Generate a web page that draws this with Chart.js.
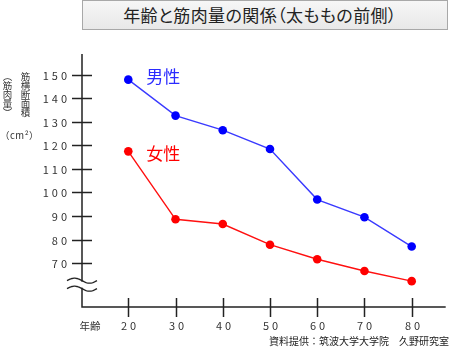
<!DOCTYPE html>
<html lang="ja">
<head>
  <meta charset="UTF-8">
  <title>年齢と筋肉量の関係</title>
  <script src="https://cdn.jsdelivr.net/npm/chart.js"></script>
  <style>
    body {
      margin: 0;
      background: #fff;
      font-family: "Noto Sans CJK JP", sans-serif;
    }
    .wrap {
      position: relative;
      width: 450px;
      height: 350px;
    }
    .title-box {
      position: absolute;
      left: 82px;
      top: 0;
      width: 366px;
      height: 30px;
      padding-right: 10px;
      box-sizing: border-box;
      border: 1px solid #a8a8a8;
      background: linear-gradient(#f6f6f6, #e8e8e8);
      color: #222;
      font-size: 17px;
      line-height: 28px;
      text-align: center;
      white-space: nowrap;
      font-feature-settings: "palt";
      letter-spacing: 0.4px;
    }
    canvas { position: absolute; left: 0; top: 0; }
  </style>
</head>
<body>

  <div class="wrap">
    <canvas id="chart" width="450" height="350"></canvas>
    <div class="title-box">年齢と筋肉量の関係（太ももの前側）</div>
  </div>

  <script>
    // values
    const ages = [20, 30, 40, 50, 60, 70, 80];
    const male = [148, 132.7, 126.5, 118.5, 97, 89.5, 77];
    const female = [117.5, 88.6, 86.6, 77.8, 71.6, 66.6, 62.3];
    const yTicks = [70, 80, 90, 100, 110, 120, 130, 140, 150];
    const seriesNames = ['男性', '女性'];
    const yTitleCols = ['筋横断面積', '︵筋肉量︶'];
    const yUnit = '（cm²）';
    const xTitle = '年齢';
    const credit = '資料提供：筑波大学大学院　久野研究室';

    const font = '"Noto Sans CJK JP", sans-serif';

    const toPoints = (vals) => ages.map((a, i) => ({ x: a, y: vals[i] }));

    const axesPlugin = {
      id: 'handAxes',
      beforeDatasetsDraw(chart) {
        const ctx = chart.ctx;
        const area = chart.chartArea;
        const xs = chart.scales.x;
        const ys = chart.scales.y;
        ctx.save();
        ctx.strokeStyle = '#222';
        ctx.lineWidth = 1.5;

        // axis lines
        ctx.beginPath();
        ctx.moveTo(area.left, area.top);
        ctx.lineTo(area.left, area.bottom);
        ctx.lineTo(area.right, area.bottom);
        ctx.stroke();

        // y ticks crossing the axis
        ctx.fillStyle = '#333';
        ctx.font = '11px ' + font;
        ctx.letterSpacing = '3px';
        ctx.textAlign = 'right';
        ctx.textBaseline = 'middle';
        yTicks.forEach(v => {
          const y = Math.round(ys.getPixelForValue(v)) + 0.5;
          ctx.beginPath();
          ctx.moveTo(area.left - 10, y);
          ctx.lineTo(area.left + 10, y);
          ctx.stroke();
          ctx.fillText(String(v), area.left - 12, y);
        });

        // x ticks crossing the axis
        ctx.textAlign = 'center';
        ages.forEach(a => {
          const x = Math.round(xs.getPixelForValue(a)) + 0.5;
          ctx.beginPath();
          ctx.moveTo(x, area.bottom - 9);
          ctx.lineTo(x, area.bottom + 10);
          ctx.stroke();
          ctx.fillText(String(a), x + 1.5, area.bottom + 19);
        });
        ctx.letterSpacing = '0px';

        // axis break mark
        const by = ys.getPixelForValue(60.8);
        ctx.fillStyle = '#fff';
        ctx.fillRect(area.left - 3, by - 3, 6, 6);
        ctx.lineWidth = 1.3;
        [-4, 4].forEach(off => {
          ctx.beginPath();
          for (let i = 0; i <= 30; i++) {
            const px = area.left - 15 + i;
            const py = by + off + 2.5 * Math.sin((i / 30) * Math.PI * 2 + Math.PI);
            if (i === 0) ctx.moveTo(px, py); else ctx.lineTo(px, py);
          }
          ctx.stroke();
        });
        ctx.restore();
      },
      afterDraw(chart) {
        const ctx = chart.ctx;
        const area = chart.chartArea;
        const xs = chart.scales.x;
        const ys = chart.scales.y;
        ctx.save();

        // series names next to the first points
        ctx.font = '17px ' + font;
        ctx.textAlign = 'left';
        ctx.textBaseline = 'middle';
        ctx.fillStyle = '#2b2bff';
        ctx.fillText(seriesNames[0], xs.getPixelForValue(ages[0]) + 18, ys.getPixelForValue(male[0]) - 3);
        ctx.fillStyle = '#ff0000';
        ctx.fillText(seriesNames[1], xs.getPixelForValue(ages[0]) + 18, ys.getPixelForValue(female[0]) + 2);

        // vertical y title, columns right to left
        ctx.fillStyle = '#333';
        ctx.font = '9.5px ' + font;
        ctx.textAlign = 'center';
        yTitleCols.forEach((col, c) => {
          const cx = 25.5 - c * 18;
          Array.from(col).forEach((ch, i) => {
            ctx.fillText(ch, cx, 76 + i * 9);
          });
        });
        ctx.textAlign = 'left';
        ctx.letterSpacing = '0.5px';
        ctx.fillText(yUnit, 0, 135);
        ctx.letterSpacing = '0px';

        // x title and credit
        ctx.font = '10.5px ' + font;
        ctx.textAlign = 'center';
        ctx.fillText(xTitle, area.left + 8, area.bottom + 19);
        ctx.fillStyle = '#222';
        ctx.font = '10px ' + font;
        ctx.textAlign = 'right';
        ctx.fillText(credit, 449, area.bottom + 34);
        ctx.restore();
      }
    };

    new Chart(document.getElementById('chart'), {
      type: 'line',
      data: {
        datasets: [
          {
            label: seriesNames[0],
            data: toPoints(male),
            borderColor: '#3a3aff',
            backgroundColor: '#0000ff',
            pointBackgroundColor: '#0000ff',
            pointBorderWidth: 0,
            pointRadius: 4.3,
            borderWidth: 1.4,
            tension: 0
          },
          {
            label: seriesNames[1],
            data: toPoints(female),
            borderColor: '#ff1010',
            backgroundColor: '#ff0000',
            pointBackgroundColor: '#ff0000',
            pointBorderWidth: 0,
            pointRadius: 4.3,
            borderWidth: 1.4,
            tension: 0
          }
        ]
      },
      options: {
        responsive: false,
        animation: false,
        layout: { padding: { left: 82, right: 2, top: 54, bottom: 43 } },
        plugins: {
          legend: { display: false },
          tooltip: { enabled: false }
        },
        scales: {
          x: { type: 'linear', min: 10.2, max: 87.2, display: false },
          y: { type: 'linear', min: 51.3, max: 158.9, display: false }
        }
      },
      plugins: [axesPlugin]
    });
  </script>

</body>
</html>
